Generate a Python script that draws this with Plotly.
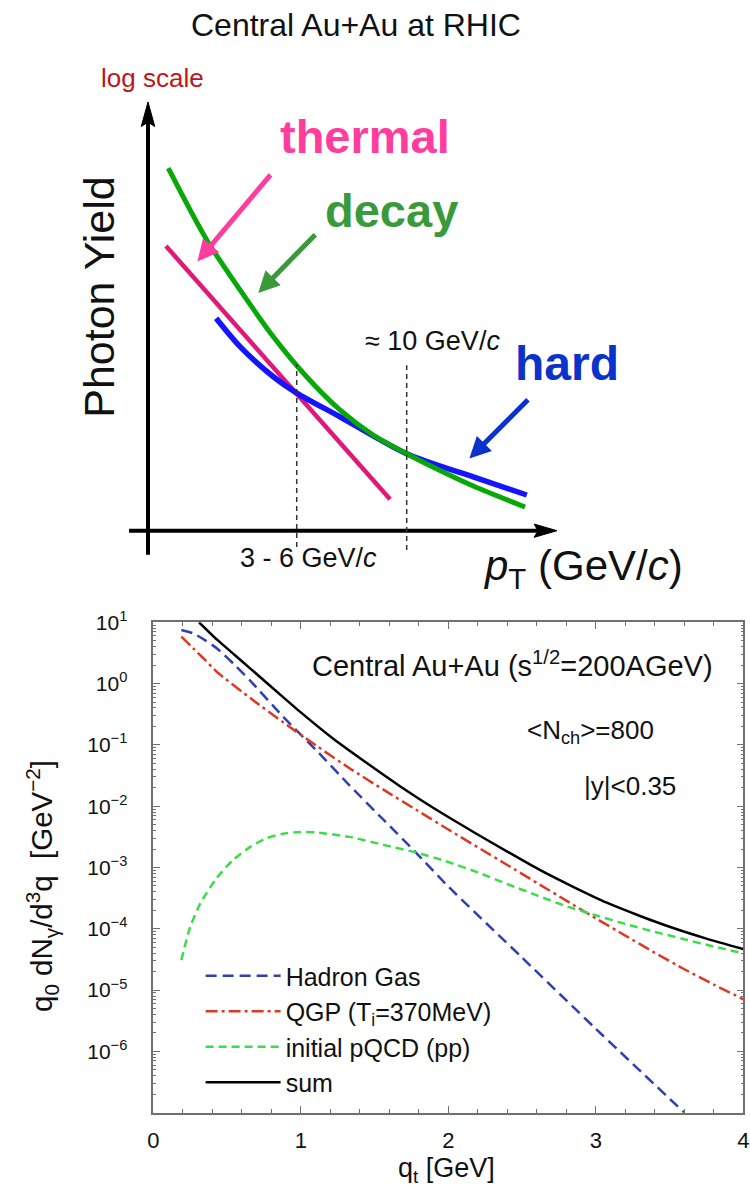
import plotly.graph_objects as go

W, H = 750, 1186
FONT = "Liberation Sans, Arial, Helvetica, sans-serif"

# ---------------- bottom panel data (q_t in GeV, yield in GeV^-2) ----------------
hg_q = [0.19, 0.27, 0.35, 0.43, 0.55, 0.66, 0.88, 1.11, 1.33, 1.56, 1.79, 2.0, 2.5, 3.0, 3.6]
hg_y = [7.48, 6.61, 5.13, 3.77, 2.04, 1.10, 0.288, 0.0794, 0.0219, 6.03e-3, 1.66e-3, 4.9e-4,
        3.39e-5, 2.34e-6, 1.0e-7]

qgp_q = [0.19, 0.27, 0.34, 0.43, 0.66, 0.88, 1.11, 1.33, 1.56, 1.79, 2.0, 2.2, 2.4, 2.6, 2.8,
         3.0, 3.2, 3.4, 3.6, 3.8, 4.0]
qgp_y = [5.82, 3.77, 2.59, 1.56, 0.575, 0.234, 0.0955, 0.0417, 0.0186, 8.51e-3, 4.17e-3,
         2.14e-3, 1.10e-3, 5.62e-4, 2.88e-4, 1.48e-4, 7.76e-5, 4.07e-5, 2.19e-5, 1.23e-5, 7.08e-6]

pqcd_q = [0.19, 0.25, 0.32, 0.43, 0.54, 0.66, 0.77, 0.88, 1.0, 1.11, 1.33, 1.56, 1.79, 2.0,
          2.2, 2.4, 2.6, 2.8, 3.0, 3.2, 3.4, 3.6, 3.8, 4.0]
pqcd_y = [3.09e-5, 1.07e-4, 2.63e-4, 6.76e-4, 1.32e-3, 2.19e-3, 3.02e-3, 3.55e-3, 3.80e-3,
          3.72e-3, 3.16e-3, 2.34e-3, 1.74e-3, 1.23e-3, 8.32e-4, 5.37e-4, 3.51e-4, 2.34e-4,
          1.66e-4, 1.20e-4, 8.91e-5, 6.76e-5, 5.13e-5, 3.98e-5]

sum_q = [0.31, 0.43, 0.55, 0.66, 0.88, 1.0, 1.22, 1.45, 1.67, 1.9, 2.17, 2.4, 2.62, 2.85,
         3.07, 3.3, 3.53, 3.75, 4.0]
sum_y = [10.0, 5.25, 2.95, 1.74, 0.603, 0.339, 0.126, 0.0501, 0.0214, 9.33e-3, 3.80e-3,
         1.82e-3, 9.12e-4, 4.79e-4, 2.69e-4, 1.62e-4, 1.02e-4, 6.92e-5, 4.68e-5]

series_names = ["Hadron Gas", "QGP (T<sub>i</sub>=370MeV)", "initial pQCD (pp)", "sum"]

x_tick_vals = [0, 1, 2, 3, 4]
x_tick_text = ["0", "1", "2", "3", "4"]
y_tick_vals = [1e1, 1e0, 1e-1, 1e-2, 1e-3, 1e-4, 1e-5, 1e-6]
y_tick_text = ["10<sup>1</sup>", "10<sup>0</sup>", "10<sup>\u22121</sup>", "10<sup>\u22122</sup>",
               "10<sup>\u22123</sup>", "10<sup>\u22124</sup>", "10<sup>\u22125</sup>",
               "10<sup>\u22126</sup>"]

# ---------------- top schematic data (pT in GeV/c, log-yield in arbitrary units) ----------------
thermal_pt = [0.69, 9.31]
thermal_y = [6.62, 0.73]
decay_pt = [0.78, 2.26, 3.54, 4.82, 6.10, 7.38, 8.67, 9.95, 11.23, 12.51, 14.50]
decay_y = [8.43, 6.76, 5.60, 4.51, 3.58, 2.81, 2.22, 1.79, 1.40, 1.04, 0.55]
hard_pt = [2.62, 3.54, 4.82, 5.72, 7.38, 9.95, 12.51, 14.57]
hard_y = [4.94, 4.28, 3.58, 3.20, 2.65, 1.79, 1.25, 0.83]
guide_pt = [5.72, 9.95]
guide_top = [3.87, 3.85]
guide_bottom = [-0.38, -0.45]

fig = go.Figure()

# ---- schematic curves ----
fig.add_trace(go.Scatter(x=thermal_pt, y=thermal_y, mode="lines", xaxis="x2", yaxis="y2",
                         line=dict(color="#e0187a", width=4.5), showlegend=False, hoverinfo="skip"))
fig.add_trace(go.Scatter(x=hard_pt, y=hard_y, mode="lines", xaxis="x2", yaxis="y2",
                         line=dict(color="#1414ff", width=5.5, shape="spline", smoothing=0.8),
                         showlegend=False, hoverinfo="skip"))
fig.add_trace(go.Scatter(x=decay_pt, y=decay_y, mode="lines", xaxis="x2", yaxis="y2",
                         line=dict(color="#07a807", width=5, shape="spline", smoothing=0.8),
                         showlegend=False, hoverinfo="skip"))

# ---- bottom panel curves ----
fig.add_trace(go.Scatter(x=hg_q, y=hg_y, mode="lines", name=series_names[0],
                         line=dict(color="#3040b0", width=2.5, dash="11px,6px",
                                   shape="spline", smoothing=0.6)))
fig.add_trace(go.Scatter(x=qgp_q, y=qgp_y, mode="lines", name=series_names[1],
                         line=dict(color="#dd3a26", width=2.5, dash="12px,4px,3px,4px",
                                   shape="spline", smoothing=0.6)))
fig.add_trace(go.Scatter(x=pqcd_q, y=pqcd_y, mode="lines", name=series_names[2],
                         line=dict(color="#3ddc4a", width=2.5, dash="8px,5px",
                                   shape="spline", smoothing=0.6)))
fig.add_trace(go.Scatter(x=sum_q, y=sum_y, mode="lines", name=series_names[3],
                         line=dict(color="#000000", width=2.5, shape="spline", smoothing=0.6)))

# ---------------- layout ----------------
top_px = 600
x2_range = [-148 / 26, (W - 148) / 26]
y2_range = [(530.7 - top_px) / 43, 530.7 / 43]

frame = "#707070"
fig.update_layout(
    width=W, height=H, margin=dict(l=0, r=0, t=0, b=0, pad=0, autoexpand=False),
    paper_bgcolor="white", plot_bgcolor="white",
    font=dict(family=FONT, color="#111"),
    xaxis=dict(domain=[153.3 / W, 743.3 / W], range=[0, 4], anchor="y", automargin=False,
               tickmode="array", tickvals=x_tick_vals, ticktext=x_tick_text,
               ticks="inside", ticklen=7, tickwidth=1, tickcolor=frame,
               mirror="allticks", showline=True, linecolor=frame, linewidth=1.5,
               showgrid=False, zeroline=False, tickfont=dict(size=22, color="#111"),
               ticklabelstandoff=7,
               minor=dict(ticks="inside", ticklen=4, dtick=0.2, tickcolor=frame, showgrid=False)),
    yaxis=dict(domain=[1 - 1112.7 / H, 1 - 622.3 / H], type="log", range=[-7, 1], anchor="x",
               automargin=False,
               tickmode="array", tickvals=y_tick_vals, ticktext=y_tick_text,
               ticks="inside", ticklen=7, tickwidth=1, tickcolor=frame,
               mirror="allticks", showline=True, linecolor=frame, linewidth=1.5,
               showgrid=False, zeroline=False, tickfont=dict(size=21, color="#111"),
               ticklabelstandoff=20,
               minor=dict(ticks="inside", ticklen=3, dtick="D1", tickcolor=frame, showgrid=False)),
    xaxis2=dict(domain=[0, 1], range=x2_range, anchor="y2", visible=False, fixedrange=True,
                automargin=False),
    yaxis2=dict(domain=[1 - top_px / H, 1], range=y2_range, anchor="x2", visible=False,
                fixedrange=True, automargin=False),
    legend=dict(x=0.2675, y=1 - 953 / H, xanchor="left", yanchor="top",
                font=dict(size=25, color="#111", family=FONT), bgcolor="rgba(0,0,0,0)",
                itemwidth=75, tracegroupgap=0),
)

# ---------------- schematic shapes ----------------
shapes = []
ax_col = "#000000"
shapes.append(dict(type="line", xref="x2", yref="y2", x0=0, y0=-0.56, x1=0, y1=9.5,
                   line=dict(color=ax_col, width=4)))
shapes.append(dict(type="path", xref="x2", yref="y2",
                   path="M -0.26,9.40 L 0,9.97 L 0.26,9.40 L 0,9.50 Z",
                   fillcolor=ax_col, line=dict(color=ax_col, width=1)))
shapes.append(dict(type="line", xref="x2", yref="y2", x0=-0.73, y0=0, x1=15.0, y1=0,
                   line=dict(color=ax_col, width=4)))
shapes.append(dict(type="path", xref="x2", yref="y2",
                   path="M 14.85,0.155 L 15.73,0 L 14.85,-0.155 L 15.0,0 Z",
                   fillcolor=ax_col, line=dict(color=ax_col, width=1)))
for gx, gt, gb in zip(guide_pt, guide_top, guide_bottom):
    shapes.append(dict(type="line", xref="x2", yref="y2", x0=gx, y0=gb, x1=gx, y1=gt,
                       line=dict(color="#333", width=1.5, dash="5px,4px")))
fig.update_layout(shapes=shapes)

# ---------------- annotations ----------------
ann = []


def stxt(text, x, y, size, color="#111", bold=False, angle=0):
    t = "<b>%s</b>" % text if bold else text
    ann.append(dict(text=t, x=x, y=y, xref="x2", yref="y2", showarrow=False,
                    xanchor="center", yanchor="middle", textangle=angle,
                    font=dict(size=size, color=color, family=FONT)))


stxt("Central Au+Au at RHIC", 8.0, 11.75, 32)
stxt("log scale", 0.19, 10.52, 26, color="#c0141a")
stxt("thermal", 8.33, 9.16, 47, color="#ff3d9e", bold=True)
stxt("decay", 9.38, 7.45, 47, color="#3a9a3a", bold=True)
stxt("hard", 16.13, 3.90, 48, color="#0a33cc", bold=True)
stxt("Photon Yield", -1.88, 5.42, 43, angle=-90)
stxt("<i>p</i><sub>T</sub> (GeV/<i>c</i>)", 16.73, -0.88, 42)
stxt("\u2248 10 GeV/<i>c</i>", 10.94, 4.42, 27)
stxt("3 - 6 GeV/<i>c</i>", 6.19, -0.63, 27)


def sarrow(x, y, ax, ay, color):
    ann.append(dict(text="", x=x, y=y, ax=ax, ay=ay, xref="x2", yref="y2",
                    axref="x2", ayref="y2", showarrow=True, arrowhead=2, arrowsize=0.85,
                    arrowwidth=5, arrowcolor=color, standoff=0, startstandoff=0))


sarrow(1.90, 6.26, 4.76, 8.31, "#ff3d9e")
sarrow(4.24, 5.53, 6.49, 6.92, "#3a9a3a")
sarrow(12.36, 1.68, 14.67, 3.08, "#0a33cc")


def ptxt(text, px, py, size, angle=0):
    ann.append(dict(text=text, x=px / W, y=1 - py / H, xref="paper", yref="paper",
                    showarrow=False, xanchor="center", yanchor="middle", textangle=angle,
                    font=dict(size=size, color="#111", family=FONT)))


ptxt("Central Au+Au (s<sup>1/2</sup>=200AGeV)", 512.5, 664, 29)
ptxt("&lt;N<sub>ch</sub>&gt;=800", 590, 731, 26)
ptxt("|y|&lt;0.35", 630, 786, 26)
ptxt("q<sub>0</sub> dN<sub>\u03b3</sub>/d<sup>3</sup>q  [GeV<sup>\u22122</sup>]", 42, 886, 29.5,
     angle=-90)
ptxt("q<sub>t</sub> [GeV]", 446, 1170, 27)

fig.update_layout(annotations=ann)

fig.write_html("out.html")
